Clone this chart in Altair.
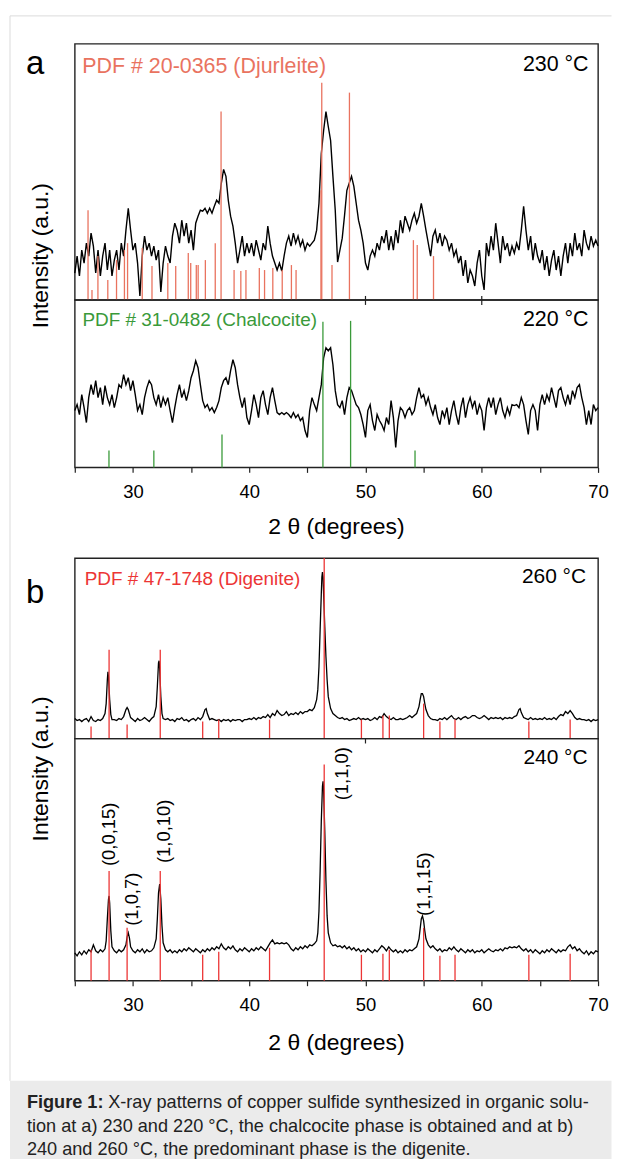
import altair as alt
import numpy as np
import pandas as pd

FONT = "Liberation Sans"

# ---------------- data ----------------
# 2-theta grid for panel a (25.0 .. 70.0, step 0.2)
two_theta_a = np.round(np.arange(250, 701, 2) / 10.0, 1)

# panel a, 230 °C (intensity, a.u.)
a230 = [
    27, 44, 24, 50, 37, 57, 44, 67, 54, 27,
    50, 24, 44, 57, 30, 50, 24, 40, 50, 30,
    57, 44, 70, 92, 70, 50, 57, 37, 4, 44,
    64, 50, 57, 44, 54, 40, 50, 8, 37, 54,
    44, 37, 64, 77, 70, 57, 80, 64, 77, 57,
    70, 50, 77, 84, 90, 89, 92, 87, 92, 87,
    94, 100, 97, 117, 131, 124, 100, 84, 74, 57,
    37, 50, 64, 44, 57, 47, 57, 44, 60, 50,
    40, 57, 50, 74, 57, 44, 37, 30, 37, 29,
    44, 57, 64, 54, 67, 57, 64, 54, 60, 50,
    57, 54, 57, 60, 70, 97, 147, 170, 189, 174,
    160, 124, 90, 38, 50, 62, 85, 110, 117, 124,
    114, 97, 80, 70, 57, 37, 30, 44, 50, 44,
    57, 50, 64, 57, 70, 50, 64, 50, 70, 57,
    80, 67, 84, 77, 70, 80, 87, 77, 84, 97,
    84, 70, 57, 44, 64, 70, 57, 67, 54, 64,
    60, 50, 57, 44, 50, 37, 44, 24, 40, 17,
    30, 24, 14, 37, 50, 24, 10, 57, 44, 64,
    50, 77, 57, 37, 64, 50, 57, 44, 54, 47,
    57, 50, 70, 94, 70, 50, 64, 40, 57, 44,
    37, 50, 30, 44, 24, 40, 50, 30, 44, 24,
    44, 57, 37, 57, 44, 67, 50, 57, 44, 70,
    57, 50, 64, 54, 60, 54,
]

# panel a, 220 °C
a220 = [
    57, 63, 53, 73, 60, 45, 70, 83, 73, 87,
    70, 80, 63, 82, 70, 63, 73, 60, 70, 83,
    80, 93, 83, 90, 77, 87, 73, 57, 63, 53,
    70, 80, 87, 83, 70, 63, 73, 60, 70, 63,
    70, 57, 45, 60, 73, 83, 70, 77, 67, 77,
    90, 97, 107, 100, 83, 67, 60, 63, 57, 60,
    55, 60, 67, 80, 87, 90, 83, 97, 108, 100,
    83, 70, 60, 70, 50, 43, 57, 73, 63, 50,
    70, 77, 63, 53, 70, 80, 67, 55, 53, 55,
    53, 55, 53, 50, 55, 50, 53, 47, 50, 37,
    30, 57, 70, 63, 57, 70, 83, 110, 120, 117,
    120, 103, 77, 63, 60, 67, 53, 70, 80, 77,
    70, 63, 60, 53, 43, 30, 57, 63, 47, 37,
    53, 47, 43, 37, 50, 43, 67, 50, 20, 47,
    60, 57, 50, 57, 60, 53, 57, 70, 80, 70,
    73, 63, 70, 60, 53, 63, 50, 43, 57, 50,
    60, 43, 57, 67, 53, 43, 60, 70, 50, 63,
    70, 60, 67, 53, 63, 57, 37, 60, 70, 60,
    70, 53, 63, 70, 57, 50, 60, 53, 63, 62,
    63, 60, 70, 63, 47, 33, 57, 63, 57, 37,
    63, 73, 63, 73, 67, 80, 70, 60, 77, 80,
    70, 63, 73, 63, 77, 70, 80, 83, 70, 60,
    43, 57, 43, 63, 57, 60,
]

# panel b, 260 °C  (2theta, intensity)
b260 = [
    (25.0, 20), (25.2, 18), (25.4, 19), (25.6, 17), (25.8, 19), (26.0, 20), (26.2, 17), (26.4, 22), (26.6, 18), (26.8, 17),
    (27.0, 19), (27.2, 18), (27.4, 20), (27.6, 25), (27.7, 35), (27.8, 59), (27.85, 67), (27.9, 62), (28.0, 39), (28.1, 24),
    (28.2, 19), (28.4, 19), (28.6, 18), (28.8, 20), (29.0, 19), (29.2, 22), (29.4, 29), (29.5, 31), (29.6, 29), (29.8, 21),
    (30.0, 19), (30.2, 17), (30.4, 20), (30.6, 18), (30.8, 19), (31.0, 21), (31.2, 19), (31.4, 17), (31.6, 20), (31.8, 22),
    (32.0, 32), (32.1, 52), (32.2, 76), (32.25, 78), (32.3, 70), (32.4, 42), (32.5, 25), (32.6, 20), (32.8, 19),
    (33.0, 20), (33.2, 18), (33.4, 19), (33.6, 17), (33.8, 20), (34.0, 19), (34.2, 21), (34.4, 18), (34.6, 19), (34.8, 17),
    (35.0, 19), (35.2, 20), (35.4, 18), (35.6, 21), (35.8, 19), (36.0, 22), (36.2, 29), (36.3, 30), (36.4, 25), (36.6, 19),
    (36.8, 20), (37.0, 19), (37.2, 18), (37.4, 19), (37.6, 17), (37.8, 19), (38.0, 18), (38.2, 19), (38.4, 17), (38.6, 19),
    (38.8, 18), (39.0, 19), (39.2, 19), (39.4, 17), (39.6, 19), (39.8, 19), (40.0, 20), (40.2, 19), (40.4, 21), (40.6, 19),
    (40.8, 21), (41.0, 20), (41.2, 22), (41.4, 21), (41.6, 24), (41.8, 21), (42.0, 25), (42.2, 23), (42.4, 28), (42.6, 25),
    (42.8, 23), (43.0, 24), (43.2, 27), (43.4, 23), (43.6, 25), (43.8, 24), (44.0, 26), (44.2, 24), (44.4, 27), (44.6, 25),
    (44.8, 27), (45.0, 27), (45.2, 29), (45.4, 28), (45.6, 31), (45.8, 39), (45.9, 49), (46.0, 72), (46.1, 109), (46.2, 145),
    (46.25, 162), (46.3, 167), (46.35, 162), (46.4, 145), (46.5, 112), (46.6, 82), (46.7, 59), (46.8, 42), (47.0, 30), (47.2, 25),
    (47.4, 23), (47.6, 21), (47.8, 20), (48.0, 21), (48.2, 19), (48.4, 20), (48.6, 18), (48.8, 19), (49.0, 20), (49.2, 19),
    (49.4, 21), (49.6, 19), (49.8, 20), (50.0, 19), (50.2, 20), (50.4, 18), (50.6, 19), (50.8, 21), (51.0, 19), (51.2, 22),
    (51.4, 21), (51.6, 25), (51.8, 22), (52.0, 20), (52.2, 19), (52.4, 21), (52.6, 19), (52.8, 19), (53.0, 20), (53.2, 19),
    (53.4, 20), (53.6, 21), (53.8, 23), (54.0, 21), (54.2, 23), (54.4, 25), (54.6, 32), (54.7, 39), (54.8, 45), (54.9, 45),
    (55.0, 42), (55.1, 35), (55.2, 29), (55.4, 23), (55.6, 20), (55.8, 19), (56.0, 19), (56.2, 18), (56.4, 20), (56.6, 19),
    (56.8, 21), (57.0, 19), (57.2, 21), (57.4, 23), (57.6, 20), (57.8, 19), (58.0, 21), (58.2, 19), (58.4, 21), (58.6, 22),
    (58.8, 20), (59.0, 21), (59.2, 23), (59.4, 23), (59.6, 21), (59.8, 20), (60.0, 21), (60.2, 23), (60.4, 21), (60.6, 19),
    (60.8, 21), (61.0, 20), (61.2, 21), (61.4, 20), (61.6, 21), (61.8, 19), (62.0, 21), (62.2, 20), (62.4, 21), (62.6, 20),
    (62.8, 22), (63.0, 23), (63.2, 29), (63.3, 30), (63.4, 26), (63.6, 21), (63.8, 20), (64.0, 19), (64.2, 21), (64.4, 19),
    (64.6, 20), (64.8, 19), (65.0, 20), (65.2, 19), (65.4, 21), (65.6, 19), (65.8, 20), (66.0, 19), (66.2, 21), (66.4, 19),
    (66.6, 22), (66.8, 24), (67.0, 23), (67.2, 27), (67.4, 25), (67.6, 28), (67.8, 25), (68.0, 21), (68.2, 19), (68.4, 20),
    (68.6, 19), (68.8, 19), (69.0, 18), (69.2, 19), (69.4, 17), (69.6, 19), (69.8, 18), (70.0, 19),
]

# panel b, 240 °C
b240 = [
    (25.0, 28), (25.2, 25), (25.4, 29), (25.6, 26), (25.8, 30), (26.0, 27), (26.2, 31), (26.4, 29), (26.6, 36), (26.8, 30),
    (27.0, 28), (27.2, 31), (27.4, 29), (27.6, 32), (27.7, 40), (27.8, 62), (27.9, 82), (27.95, 85), (28.0, 78), (28.1, 50),
    (28.2, 34), (28.4, 30), (28.6, 28), (28.8, 31), (29.0, 29), (29.2, 31), (29.4, 36), (29.5, 44), (29.6, 48), (29.7, 43),
    (29.8, 34), (30.0, 30), (30.2, 28), (30.4, 31), (30.6, 29), (30.8, 32), (31.0, 28), (31.2, 31), (31.4, 29), (31.6, 30),
    (31.8, 33), (32.0, 42), (32.1, 62), (32.2, 88), (32.3, 97), (32.4, 82), (32.5, 55), (32.6, 38), (32.8, 31), (33.0, 29),
    (33.2, 31), (33.4, 28), (33.6, 30), (33.8, 28), (34.0, 31), (34.2, 29), (34.4, 32), (34.6, 30), (34.8, 33), (35.0, 31),
    (35.2, 29), (35.4, 32), (35.6, 30), (35.8, 28), (36.0, 31), (36.2, 29), (36.4, 32), (36.6, 30), (36.8, 33), (37.0, 31),
    (37.2, 34), (37.4, 32), (37.6, 37), (37.8, 33), (38.0, 31), (38.2, 34), (38.4, 32), (38.6, 35), (38.8, 31), (39.0, 29),
    (39.2, 32), (39.4, 30), (39.6, 33), (39.8, 31), (40.0, 29), (40.2, 32), (40.4, 30), (40.6, 33), (40.8, 31), (41.0, 34),
    (41.2, 32), (41.4, 30), (41.6, 34), (41.8, 38), (42.0, 41), (42.2, 37), (42.4, 38), (42.6, 37), (42.8, 38), (43.0, 37),
    (43.2, 38), (43.4, 36), (43.6, 32), (43.8, 30), (44.0, 33), (44.2, 31), (44.4, 34), (44.6, 32), (44.8, 35), (45.0, 33),
    (45.2, 36), (45.4, 35), (45.6, 37), (45.8, 40), (45.9, 48), (46.0, 70), (46.1, 110), (46.2, 160), (46.3, 195), (46.35, 200),
    (46.4, 190), (46.5, 150), (46.6, 100), (46.7, 65), (46.8, 48), (47.0, 38), (47.2, 35), (47.4, 36), (47.6, 34), (47.8, 35),
    (48.0, 33), (48.2, 35), (48.4, 32), (48.6, 34), (48.8, 31), (49.0, 33), (49.2, 30), (49.4, 32), (49.6, 29), (49.8, 31),
    (50.0, 29), (50.2, 32), (50.4, 30), (50.6, 28), (50.8, 31), (51.0, 29), (51.2, 32), (51.4, 35), (51.6, 33), (51.8, 30),
    (52.0, 34), (52.2, 31), (52.4, 29), (52.6, 31), (52.8, 28), (53.0, 30), (53.2, 28), (53.4, 31), (53.6, 29), (53.8, 31),
    (54.0, 30), (54.2, 32), (54.4, 34), (54.6, 42), (54.7, 52), (54.8, 62), (54.9, 65), (55.0, 60), (55.1, 50), (55.2, 42),
    (55.4, 36), (55.6, 33), (55.8, 35), (56.0, 32), (56.2, 30), (56.4, 32), (56.6, 29), (56.8, 31), (57.0, 30), (57.2, 33),
    (57.4, 31), (57.6, 34), (57.8, 31), (58.0, 29), (58.2, 32), (58.4, 30), (58.6, 28), (58.8, 31), (59.0, 29), (59.2, 31),
    (59.4, 28), (59.6, 30), (59.8, 29), (60.0, 31), (60.2, 28), (60.4, 30), (60.6, 32), (60.8, 30), (61.0, 29), (61.2, 31),
    (61.4, 30), (61.6, 32), (61.8, 30), (62.0, 33), (62.2, 32), (62.4, 34), (62.6, 33), (62.8, 34), (63.0, 33), (63.2, 35),
    (63.4, 32), (63.6, 30), (63.8, 32), (64.0, 29), (64.2, 31), (64.4, 28), (64.6, 31), (64.8, 29), (65.0, 27), (65.2, 30),
    (65.4, 28), (65.6, 31), (65.8, 29), (66.0, 32), (66.2, 30), (66.4, 28), (66.6, 31), (66.8, 29), (67.0, 31), (67.2, 30),
    (67.4, 34), (67.6, 36), (67.8, 32), (68.0, 34), (68.2, 30), (68.4, 32), (68.6, 29), (68.8, 27), (69.0, 30), (69.2, 26),
    (69.4, 29), (69.6, 27), (69.8, 30), (70.0, 29),
]

# reference patterns (stick positions and heights)
djurleite_pos = [26.14, 26.48, 26.99, 27.84, 28.59, 29.27, 29.54, 30.80, 31.64, 33.00,
                 33.68, 34.76, 34.97, 35.45, 35.61, 36.23, 37.08, 37.58, 38.70, 39.28,
                 39.72, 40.87, 41.32, 42.03, 42.84, 43.63, 44.03, 46.17, 46.24, 47.12,
                 48.62, 54.12, 54.45, 55.85]
djurleite_h = [90, 10, 44, 20, 40, 50, 57, 52, 34, 37,
               34, 47, 37, 35, 35, 40, 57, 189, 30, 29,
               30, 32, 30, 32, 30, 35, 30, 110, 218, 35,
               208, 60, 55, 44]

chalcocite_pos = [27.94, 31.80, 37.66, 46.34, 48.72, 54.26]
chalcocite_h = [17, 17, 33, 146, 147, 17]

digenite_pos = [26.40, 27.95, 29.50, 32.35, 36.00, 37.38, 41.75, 46.45,
                49.65, 51.50, 52.05, 55.00, 56.40, 57.70, 64.05, 67.60]
digenite_h_260 = [12, 89, 14, 89, 17, 19, 19, 181, 19, 23, 23, 35, 17, 19, 17, 19]
digenite_h_240 = [31, 110, 53, 110, 26, 29, 33, 217, 26, 27, 31, 53, 25, 26, 26, 27]

hkl_labels = ["(0,0,15)", "(1,0,7)", "(1,0,10)", "(1,1,0)", "(1,1,15)"]
hkl_x = [27.97, 29.90, 32.70, 47.95, 55.02]
hkl_y = [115, 55, 118, 181, 65]

tick_values = [25, 30, 35, 40, 45, 50, 55, 60, 65, 70]
divider_ticks_a = [50, 60]
divider_ticks_b = [50]

caption_bold = "Figure 1:"
caption_lines = [
    "X-ray patterns of copper sulfide synthesized in organic solu-",
    "tion at a) 230 and 220 \u00b0C, the chalcocite phase is obtained and at b)",
    "240 and 260 \u00b0C, the predominant phase is the digenite.",
]

assert len(a230) == len(two_theta_a) and len(a220) == len(two_theta_a)

# ---------------- layout constants ----------------
W = 525
H_A1, H_A2, GAP, H_B1, H_B2 = 257, 168, 91, 181, 243
RIGHT = 538.5          # right end of figure border / caption box (keeps the svg <= 605 px wide)
COL_DJ = "#e9735f"
COL_CH = "#3a9a3a"
COL_DG = "#ec3535"

xs = alt.Scale(domain=[25, 70], nice=False, zero=False)


def ys(h):
    return alt.Scale(domain=[0, h], nice=False, zero=False)


axis_bottom = alt.Axis(
    values=tick_values, format="d",
    labelExpr="datum.value % 10 == 0 ? datum.label : ''",
    tickSize=5, tickWidth=1.2, tickColor="#222", domain=False, grid=False,
    labelFontSize=18.5, labelFont=FONT, labelColor="black", labelPadding=10,
    labelFlush=False, labelOverlap=False, title=None,
)


def txt(s, x, y, size, color="black", align="left", baseline="alphabetic", angle=0, weight="normal"):
    return alt.Chart(pd.DataFrame({"t": [s]})).mark_text(
        align=align, baseline=baseline, fontSize=size, color=color, angle=angle,
        fontWeight=weight, font=FONT,
    ).encode(x=alt.value(x), y=alt.value(y), text="t:N")


def prule(x, y, color, width, x2=None, y2=None):
    enc = dict(x=alt.value(x), y=alt.value(y))
    if x2 is not None:
        enc["x2"] = alt.value(x2)
    if y2 is not None:
        enc["y2"] = alt.value(y2)
    return alt.Chart(pd.DataFrame({"k": [0]})).mark_rule(color=color, strokeWidth=width).encode(**enc)


def pattern(df, pos, heights, color, h, axis, lw):
    line = alt.Chart(df).mark_line(color="black", strokeWidth=lw).encode(
        x=alt.X("x:Q", scale=xs, axis=axis),
        y=alt.Y("y:Q", scale=ys(h), axis=None),
    )
    refs = alt.Chart(pd.DataFrame({"x": pos, "h": heights})).mark_rule(
        color=color, strokeWidth=1.3
    ).encode(
        x=alt.X("x:Q", scale=xs, axis=axis),
        y=alt.Y("h:Q", scale=ys(h), axis=None),
        y2=alt.datum(0),
    )
    return [line, refs]


def div_ticks(vals, axis, y0, y1):
    return alt.Chart(pd.DataFrame({"x": vals})).mark_rule(color="#222", strokeWidth=1.2).encode(
        x=alt.X("x:Q", scale=xs, axis=axis), y=alt.value(y0), y2=alt.value(y1)
    )


df_a230 = pd.DataFrame({"x": two_theta_a, "y": a230})
df_a220 = pd.DataFrame({"x": two_theta_a, "y": a220})
df_b260 = pd.DataFrame(b260, columns=["x", "y"])
df_b240 = pd.DataFrame(b240, columns=["x", "y"])

BORDER = "#dcdcdc"

# ---- panel a, top (230 °C)
a_top = alt.layer(
    prule(-65, -28, BORDER, 1, y2=1040.5),
    prule(-65, -28, BORDER, 1, x2=RIGHT),
    *pattern(df_a230, djurleite_pos, djurleite_h, COL_DJ, H_A1, None, 1.4),
    txt("PDF # 20-0365 (Djurleite)", 7.5, 29.5, 21.5, COL_DJ),
    txt("230 \u00b0C", 515.5, 27.5, 21.5, "black", align="right"),
    txt("a", -49, 30.5, 33),
    txt("Intensity (a.u.)", -33.5, 212.5, 23, angle=270, align="center", baseline="middle"),
).properties(width=W, height=H_A1)

# ---- panel a, bottom (220 °C)
a_bot = alt.layer(
    *pattern(df_a220, chalcocite_pos, chalcocite_h, COL_CH, H_A2, axis_bottom, 1.4),
    div_ticks(divider_ticks_a, axis_bottom, -4, 5),
    txt("PDF # 31-0482 (Chalcocite)", 7.7, 25.8, 19, COL_CH),
    txt("220 \u00b0C", 515.5, 26, 21.5, "black", align="right"),
    txt("2 \u03b8 (degrees)", 262.5, 227.5, 23, align="center", baseline="middle"),
).properties(width=W, height=H_A2)

# ---- empty spacer between the two figure parts
spacer = alt.Chart(pd.DataFrame({"k": [0]})).mark_point(opacity=0).encode(
    x=alt.value(0), y=alt.value(0)
).properties(width=W, height=GAP, view=alt.ViewBackground(strokeOpacity=0))

# ---- panel b, top (260 °C)
b_top = alt.layer(
    *pattern(df_b260, digenite_pos, digenite_h_260, COL_DG, H_B1, None, 1.3),
    txt("PDF # 47-1748 (Digenite)", 10, 26.5, 19, COL_DG),
    txt("260 \u00b0C", 513, 25.2, 21, "black", align="right"),
    txt("b", -49, 45.5, 33),
    txt("Intensity (a.u.)", -33.5, 211.5, 23, angle=270, align="center", baseline="middle"),
).properties(width=W, height=H_B1)

# ---- panel b, bottom (240 °C)
hkl_df = pd.DataFrame({"x": hkl_x, "y": hkl_y, "t": hkl_labels})
hkl = alt.Chart(hkl_df).mark_text(
    angle=270, align="left", baseline="middle", fontSize=18.5, font=FONT, color="black"
).encode(
    x=alt.X("x:Q", scale=xs, axis=axis_bottom),
    y=alt.Y("y:Q", scale=ys(H_B2), axis=None),
    text="t:N",
)

b_bot = alt.layer(
    *pattern(df_b240, digenite_pos, digenite_h_240, COL_DG, H_B2, axis_bottom, 1.3),
    div_ticks(divider_ticks_b, axis_bottom, 0, 5),
    hkl,
    txt("240 \u00b0C", 514.5, 25.5, 21, "black", align="right"),
    txt("2 \u03b8 (degrees)", 262.5, 305.5, 23, align="center", baseline="middle"),
    alt.Chart(pd.DataFrame({"k": [0]})).mark_rect(color="#ebebeb").encode(
        x=alt.value(-65), x2=alt.value(RIGHT), y=alt.value(343.5), y2=alt.value(422)
    ),
    txt(caption_bold, -48, 371, 18.2, "#222", weight="bold"),
    txt(caption_lines[0], 33.5, 371, 18.2, "#222"),
    txt(caption_lines[1], -48, 395, 18.2, "#222"),
    txt(caption_lines[2], -48, 418, 18.2, "#222"),
).properties(width=W, height=H_B2)

chart = (
    alt.vconcat(a_top, a_bot, spacer, b_top, b_bot, spacing=0, bounds="flush")
    .resolve_scale(x="independent", y="independent")
    .properties(padding={"left": 0, "top": 4, "right": 0, "bottom": 0})
    .configure(font=FONT)
    .configure_view(stroke="#222", strokeWidth=1.4)
)

chart.save("out.html", embed_options={"renderer": "svg", "actions": False})
